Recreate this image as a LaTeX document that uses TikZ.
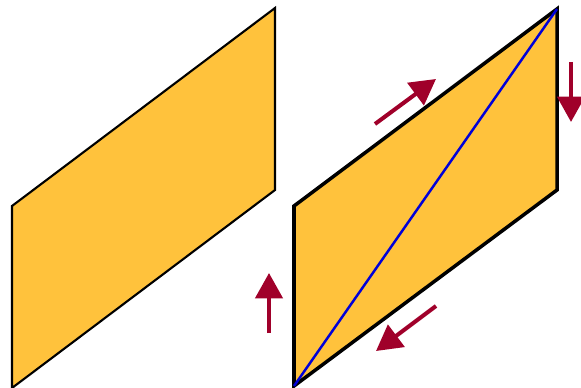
\documentclass[tikz,border=0pt]{standalone}
\usepackage{tikz}
\usetikzlibrary{arrows.meta,calc}
\definecolor{plateorange}{HTML}{FFC23C}
\definecolor{forcered}{HTML}{A0002A}
\begin{document}
\begin{tikzpicture}[x=0.02cm,y=-0.02cm,
              plate/.style={draw=black,fill=plateorange,line join=miter},
              force/.style={-{Triangle[length=14.5pt,width=15.5pt]},draw=forcered,line width=2.3pt},
              diag/.style={draw=blue!85!black,line width=1.4pt}
            ]
            \useasboundingbox (0,0) rectangle (581,388);
            % left plate
            \coordinate (la) at (12,206);
            \coordinate (lb) at (275,8);
            \coordinate (lc) at (275,190);
            \coordinate (ld) at (12,388);
            \draw[plate,line width=1.2pt] (la) -- (lb) -- (lc) -- (ld) -- cycle;
            % right plate, sheared
            \coordinate (ra) at (294,206);
            \coordinate (rb) at (557,9);
            \coordinate (rc) at (557,190);
            \coordinate (rd) at (294,386);
            \draw[plate,line width=2pt] (ra) -- (rb) -- (rc) -- (rd) -- cycle;
            \draw[diag] (rd) -- (rb);
            % shear forces
            \coordinate (t1) at (375,124); \coordinate (h1) at (436,79);
            \coordinate (t2) at (571,62);  \coordinate (h2) at (571,122);
            \coordinate (t3) at (436,306); \coordinate (h3) at (376,351);
            \coordinate (t4) at (269,333); \coordinate (h4) at (269,273);
            \draw[force] (t1) -- (h1);
            \draw[force] (t2) -- (h2);
            \draw[force] (t3) -- (h3);
            \draw[force] (t4) -- (h4);
          \end{tikzpicture}
\end{document}
